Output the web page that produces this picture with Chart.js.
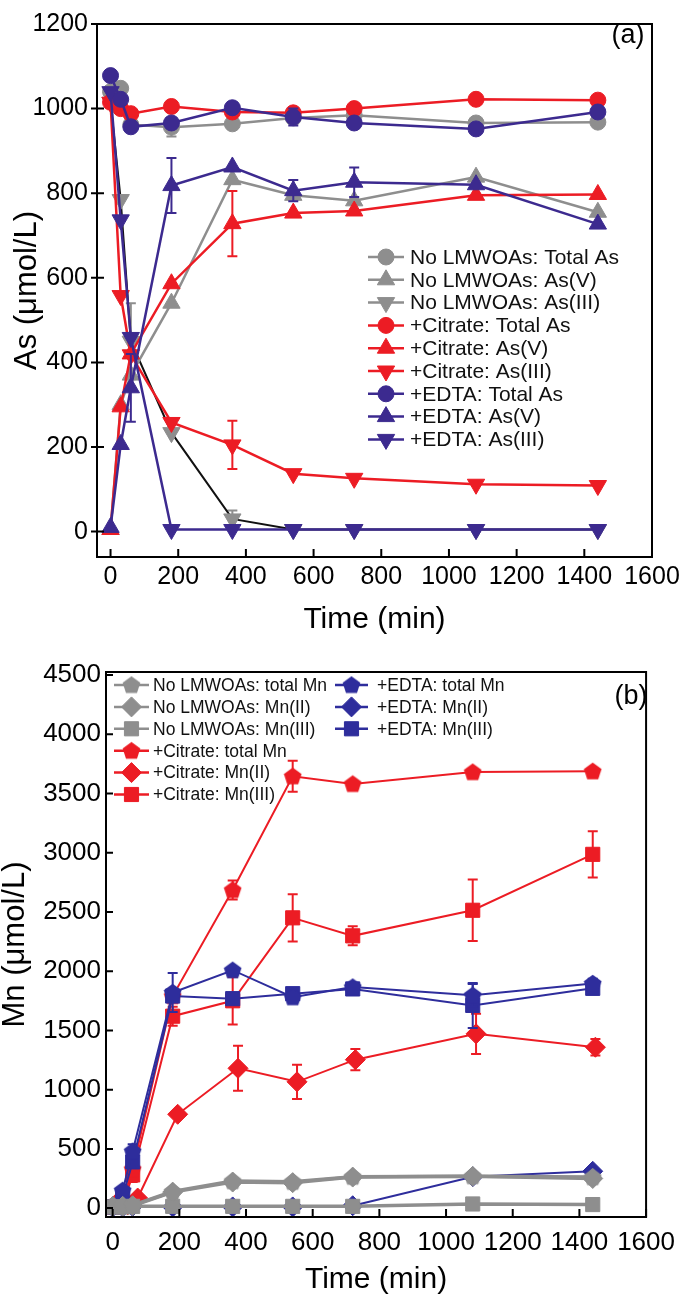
<!doctype html>
<html>
<head>
<meta charset="utf-8">
<title>As and Mn species over time</title>
<script src="https://cdn.jsdelivr.net/npm/chart.js@4"></script>
<style>
  html, body { margin: 0; padding: 0; background: #fff; }
  canvas { position: absolute; left: 0; }
  #chartA { top: 0; }
  #chartB { top: 648px; }
</style>
</head>
<body>
<canvas id="chartA" width="685" height="645"></canvas>
<canvas id="chartB" width="685" height="651"></canvas>
<script>
// ---------- panel (a): arsenic ----------
const timeA = [0, 30, 60, 180, 360, 540, 720, 1080, 1440];
const xTicksA = [0, 200, 400, 600, 800, 1000, 1200, 1400, 1600];
const yTicksA = [0, 200, 400, 600, 800, 1000, 1200];

const noTotalAs = [1040, 1048, 962, 956, 964, 978, 984, 966, 968];
const noAsV     = [5, 300, 370, 540, 832, 795, 782, 838, 755];
const noAsIII   = [1015, 785, 450, 234, 30, 5, 5, 5, 5];
const citTotalAs = [1015, 1000, 988, 1005, 992, 990, 1000, 1022, 1020];
const citAsV     = [5, 295, 420, 586, 728, 753, 758, 795, 797];
const citAsIII   = [1015, 558, 418, 258, 205, 137, 126, 112, 109];
const edtaTotalAs = [1078, 1022, 957, 966, 1002, 980, 966, 952, 992];
const edtaAsV     = [10, 206, 340, 818, 862, 806, 826, 820, 727];
const edtaAsIII   = [1040, 737, 459, 5, 5, 5, 5, 5, 5];

// error bars (same index as timeA, null = none)
const noTotalAsErr = [null, null, null, 22, null, null, null, null, null];
const noAsIIIErr   = [null, null, 90, null, 20, null, null, null, null];
const citAsVErr    = [null, null, null, null, 77, null, null, null, null];
const citAsIIIErr  = [null, null, null, null, 57, null, null, null, null];
const edtaTotalAsErr = [null, null, null, null, null, 20, null, null, null];
const edtaAsVErr   = [null, null, 80, 65, null, 25, 35, null, null];

// ---------- panel (b): manganese ----------
const timeB = [0, 30, 60, 180, 360, 540, 720, 1080, 1440];
const timeBCitMn2 = [15, 45, 75, 195, 376, 553, 728, 1090, 1448];
const xTicksB = [0, 200, 400, 600, 800, 1000, 1200, 1400, 1600];
const yTicksB = [0, 500, 1000, 1500, 2000, 2500, 3000, 3500, 4000, 4500];

const noTotalMn = [20, 20, 25, 140, 228, 222, 265, 270, 262];
const noMn2     = [15, 15, 20, 135, 220, 215, 262, 268, 250];
const noMn3     = [10, 10, 15, 15, 15, 15, 15, 35, 30];
const citTotalMn = [20, 60, 330, 1790, 2685, 3645, 3580, 3680, 3687];
const citMn2     = [50, 28, 85, 792, 1180, 1066, 1253, 1471, 1358];
const citMn3     = [10, 30, 280, 1620, 1750, 2450, 2298, 2514, 2986];
const edtaTotalMn = [20, 150, 480, 1820, 2008, 1780, 1866, 1796, 1896];
const edtaMn2     = [10, 10, 15, 10, 10, 10, 20, 265, 311];
const edtaMn3     = [10, 100, 390, 1790, 1768, 1810, 1850, 1711, 1855];

const citTotalMnErr = [null, null, null, null, 80, 130, null, null, null];
const citMn2Err     = [null, null, null, null, 190, 145, 90, 170, 70];
const citMn3Err     = [null, null, 60, 80, 200, 200, 80, 260, 195];
const edtaTotalMnErr = [null, null, 60, 165, null, null, null, 95, 40];
const edtaMn3Err     = [null, null, null, null, null, null, null, 190, 50];

const GREY = '#8e8e8e';
const RED = '#ec1c24';
const BLUE_A = '#3c2a8f';
const BLUE_B = '#2e2d9c';
const FONT = "'Liberation Sans', Arial, sans-serif";
Chart.defaults.font.family = FONT;
Chart.defaults.color = '#000';

function pentagon(color, size) {
  const c = document.createElement('canvas');
  c.width = size; c.height = size;
  const g = c.getContext('2d');
  const r = size / 2;
  g.fillStyle = color;
  g.beginPath();
  for (let k = 0; k < 5; k++) {
    const a = -Math.PI / 2 + k * 2 * Math.PI / 5;
    const px = r + Math.cos(a) * r * 0.98, py = r * 1.06 + Math.sin(a) * r * 0.98;
    if (k === 0) g.moveTo(px, py); else g.lineTo(px, py);
  }
  g.closePath();
  g.fill();
  return c;
}

function series(label, xs, ys, errs, color, style, opts = {}) {
  return {
    label,
    data: xs.map((x, i) => ({ x, y: ys[i] })),
    errors: errs || null,
    showLine: true,
    borderColor: opts.lineColor || color,
    backgroundColor: color,
    pointBackgroundColor: color,
    pointBorderColor: color,
    pointBorderWidth: 1,
    borderWidth: opts.width || 2.5,
    pointStyle: style,
    pointRotation: opts.rotation || 0,
    pointRadius: opts.radius || 8,
    order: opts.order || 0,
    legendColor: color
  };
}

// error bars drawn just under each dataset
const errorBars = {
  id: 'errorBars',
  beforeDatasetDraw(chart, args) {
    const ds = chart.data.datasets[args.index];
    if (!ds.errors) return;
    const { ctx, scales: { x, y } } = chart;
    ctx.save();
    ctx.strokeStyle = ds.pointBackgroundColor;
    ctx.lineWidth = 2;
    ds.data.forEach((p, i) => {
      const e = ds.errors[i];
      if (e == null) return;
      const px = x.getPixelForValue(p.x);
      const top = y.getPixelForValue(p.y + e);
      const bot = y.getPixelForValue(p.y - e);
      ctx.beginPath();
      ctx.moveTo(px, top); ctx.lineTo(px, bot);
      ctx.moveTo(px - 5, top); ctx.lineTo(px + 5, top);
      ctx.moveTo(px - 5, bot); ctx.lineTo(px + 5, bot);
      ctx.stroke();
    });
    ctx.restore();
  }
};

// box + ticks + panel tag + legend
const frame = {
  id: 'frame',
  afterDraw(chart, args, o) {
    const { ctx, chartArea: a, scales: { x, y } } = chart;
    ctx.save();
    ctx.strokeStyle = '#000';
    ctx.lineWidth = 2;
    ctx.strokeRect(a.left, a.top, a.right - a.left, a.bottom - a.top);
    ctx.beginPath();
    x.ticks.forEach(t => {
      const px = x.getPixelForValue(t.value);
      ctx.moveTo(px, a.bottom); ctx.lineTo(px, a.bottom - 8);
    });
    y.ticks.forEach(t => {
      const py = y.getPixelForValue(t.value);
      ctx.moveTo(a.left - o.yTickOut, py); ctx.lineTo(a.left + 7, py);
    });
    ctx.stroke();

    ctx.fillStyle = '#000';
    ctx.font = '27px ' + FONT;
    ctx.textAlign = 'center';
    ctx.textBaseline = 'middle';
    ctx.fillText(o.tag, o.tagX, o.tagY);

    // legend
    ctx.font = o.legendFont + 'px ' + FONT;
    ctx.textAlign = 'left';
    const sets = chart.data.datasets;
    o.legend.forEach(col => {
      col.items.forEach((idx, r) => {
        const ds = sets[idx];
        const ly = col.y0 + r * col.dy;
        ctx.strokeStyle = ds.legendColor;
        ctx.lineWidth = 2.5;
        ctx.beginPath();
        ctx.moveTo(col.x0, ly); ctx.lineTo(col.x1, ly);
        ctx.stroke();
        ctx.fillStyle = ds.legendColor;
        ctx.strokeStyle = ds.legendColor;
        ctx.lineWidth = 1;
        Chart.helpers.drawPoint(ctx, {
          pointStyle: ds.pointStyle, rotation: ds.pointRotation,
          radius: ds.pointRadius, borderWidth: 1
        }, (col.x0 + col.x1) / 2, ly);
        ctx.fillStyle = '#111';
        ctx.fillText(ds.label, col.tx, ly + 1);
      });
    });
    ctx.restore();
  }
};

function axes(cfg) {
  return {
    x: {
      type: 'linear', min: cfg.xMin, max: cfg.xMax,
      afterBuildTicks: s => { s.ticks = cfg.xTicks.map(v => ({ value: v })); },
      afterFit: s => { s.height = cfg.xHeight; },
      grid: { display: false, drawTicks: false },
      border: { display: false },
      ticks: { font: { size: cfg.tickSize }, padding: cfg.xPad, maxRotation: 0, autoSkip: false, callback: v => String(v) },
      title: { display: true, text: 'Time (min)', font: { size: 30, lineHeight: 1 }, padding: { top: 0, bottom: cfg.xTitlePad } }
    },
    y: {
      type: 'linear', min: cfg.yMin, max: cfg.yMax,
      afterBuildTicks: s => { s.ticks = cfg.yTicks.map(v => ({ value: v })); },
      afterFit: s => { s.width = cfg.yWidth; },
      grid: { display: false, drawTicks: false },
      border: { display: false },
      ticks: { font: { size: cfg.tickSize }, padding: cfg.yPad, autoSkip: false, callback: v => String(v) },
      title: { display: true, text: cfg.yTitle, font: { size: 31, lineHeight: 1 }, padding: { top: cfg.yTitlePad, bottom: 0 } }
    }
  };
}

new Chart(document.getElementById('chartA'), {
  type: 'scatter',
  data: {
    datasets: [
      series('No LMWOAs: Total As', timeA, noTotalAs, noTotalAsErr, GREY, 'circle', { radius: 8, order: 3 }),
      series('No LMWOAs: As(V)', timeA, noAsV, null, GREY, 'triangle', { radius: 10, order: 3 }),
      series('No LMWOAs: As(III)', timeA, noAsIII, noAsIIIErr, GREY, 'triangle', { radius: 10, order: 3, rotation: 180, lineColor: '#111', width: 2 }),
      series('+Citrate: Total As', timeA, citTotalAs, null, RED, 'circle', { radius: 8, order: 2 }),
      series('+Citrate: As(V)', timeA, citAsV, citAsVErr, RED, 'triangle', { radius: 10, order: 2 }),
      series('+Citrate: As(III)', timeA, citAsIII, citAsIIIErr, RED, 'triangle', { radius: 10, order: 2, rotation: 180 }),
      series('+EDTA: Total As', timeA, edtaTotalAs, edtaTotalAsErr, BLUE_A, 'circle', { radius: 8, order: 1 }),
      series('+EDTA: As(V)', timeA, edtaAsV, edtaAsVErr, BLUE_A, 'triangle', { radius: 10, order: 1 }),
      series('+EDTA: As(III)', timeA, edtaAsIII, null, BLUE_A, 'triangle', { radius: 10, order: 1, rotation: 180 })
    ]
  },
  options: {
    responsive: false, animation: false, events: [],
    layout: { autoPadding: false, padding: { top: 12, right: 33, left: 0, bottom: 0 } },
    scales: axes({ xMin: -40, xMax: 1600, yMin: -60, yMax: 1200, xTicks: xTicksA, yTicks: yTicksA,
      xHeight: 88, yWidth: 97, tickSize: 25, xPad: 5, yPad: 9, xTitlePad: 10, yTitle: 'As (μmol/L)', yTitlePad: 12 }),
    plugins: {
      legend: { display: false }, tooltip: { enabled: false },
      frame: {
        tag: '(a)', tagX: 628, tagY: 36, legendFont: 21, yTickOut: 6,
        legend: [{ items: [0, 1, 2, 3, 4, 5, 6, 7, 8], x0: 368, x1: 404, tx: 410, y0: 257, dy: 22.8 }]
      }
    }
  },
  plugins: [errorBars, frame]
});

const pentGrey = pentagon(GREY, 19), pentRed = pentagon(RED, 19), pentBlue = pentagon(BLUE_B, 19);

new Chart(document.getElementById('chartB'), {
  type: 'scatter',
  data: {
    datasets: [
      series('No LMWOAs: total Mn', timeB, noTotalMn, null, GREY, pentGrey, { order: 1, width: 3.5 }),
      series('No LMWOAs: Mn(II)', timeB, noMn2, null, GREY, 'rectRot', { radius: 10, order: 1, width: 3.5 }),
      series('No LMWOAs: Mn(III)', timeB, noMn3, null, GREY, 'rect', { radius: 10, order: 1, width: 3.5 }),
      series('+Citrate: total Mn', timeB, citTotalMn, citTotalMnErr, RED, pentRed, { order: 3, width: 2 }),
      series('+Citrate: Mn(II)', timeBCitMn2, citMn2, citMn2Err, RED, 'rectRot', { radius: 10, order: 3, width: 2 }),
      series('+Citrate: Mn(III)', timeB, citMn3, citMn3Err, RED, 'rect', { radius: 10, order: 3, width: 2 }),
      series('+EDTA: total Mn', timeB, edtaTotalMn, edtaTotalMnErr, BLUE_B, pentBlue, { order: 2, width: 2 }),
      series('+EDTA: Mn(II)', timeB, edtaMn2, null, BLUE_B, 'rectRot', { radius: 10, order: 2, width: 2 }),
      series('+EDTA: Mn(III)', timeB, edtaMn3, edtaMn3Err, BLUE_B, 'rect', { radius: 10, order: 2, width: 2 })
    ]
  },
  options: {
    responsive: false, animation: false, events: [],
    layout: { autoPadding: false, padding: { top: 24, right: 30, left: 0, bottom: 0 } },
    scales: axes({ xMin: -20, xMax: 1600, yMin: -75, yMax: 4525, xTicks: xTicksB, yTicks: yTicksB,
      xHeight: 82, yWidth: 106, tickSize: 26, xPad: 10, yPad: 5, xTitlePad: 4, yTitle: 'Mn (μmol/L)', yTitlePad: 0 }),
    plugins: {
      legend: { display: false }, tooltip: { enabled: false },
      frame: {
        tag: '(b)', tagX: 631, tagY: 49, legendFont: 17.5, yTickOut: 0,
        legend: [
          { items: [0, 1, 2, 3, 4, 5], x0: 114, x1: 149, tx: 153, y0: 37, dy: 21.9 },
          { items: [6, 7, 8], x0: 335, x1: 368, tx: 377, y0: 37, dy: 21.9 }
        ]
      }
    }
  },
  plugins: [errorBars, frame]
});
</script>
</body>
</html>
